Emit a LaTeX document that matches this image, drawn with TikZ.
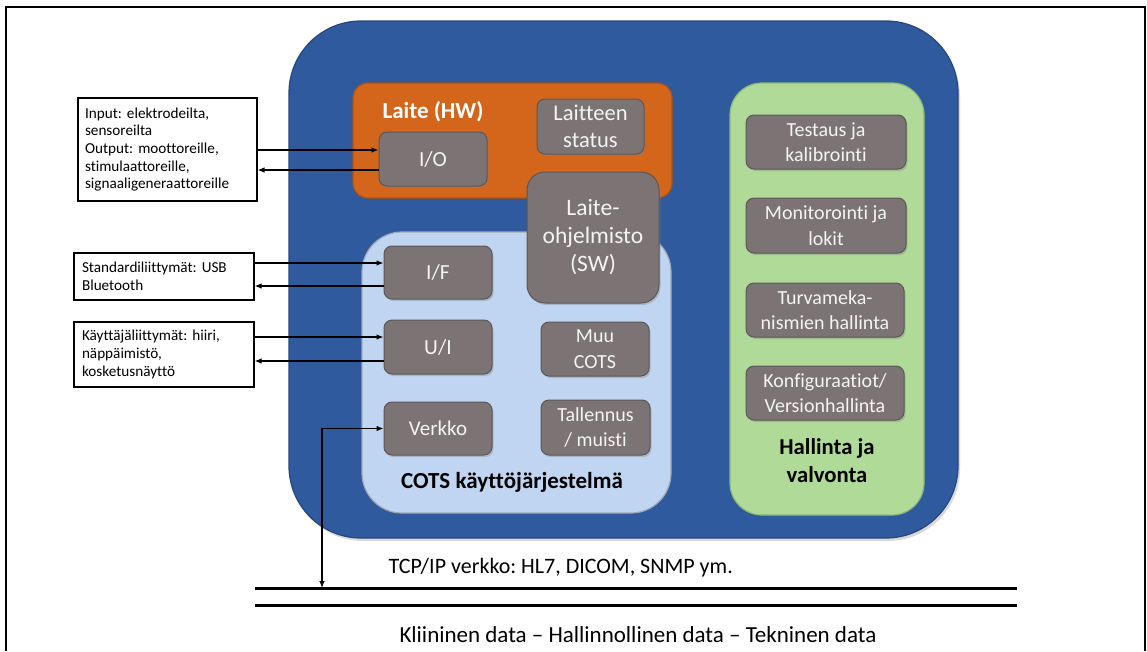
\documentclass[tikz,border=0pt]{standalone}
\usepackage{fontspec}
\setmainfont{Carlito}[Ligatures={NoCommon}]
\usetikzlibrary{arrows.meta,shadows}
\definecolor{outerblue}{HTML}{2F5A9E}
\definecolor{outerblueedge}{HTML}{25477E}
\definecolor{hworange}{HTML}{D4661C}
\definecolor{hworangeedge}{HTML}{B0520F}
\definecolor{cotsblue}{HTML}{BFD5F1}
\definecolor{cotsedge}{HTML}{9FA9B5}
\definecolor{mgmtgreen}{HTML}{B0DA97}
\definecolor{mgmtedge}{HTML}{8EB878}
\definecolor{boxgray}{HTML}{7C7474}
\definecolor{boxgrayedge}{HTML}{5C5656}
\definecolor{boxtext}{HTML}{F4F4F4}
\frenchspacing
\begin{document}
\begin{tikzpicture}[x=1pt,y=-1pt,
  container/.style={rounded corners=#1, inner sep=0pt, line width=1.2pt},
  graybox/.style={draw=boxgrayedge, fill=boxgray, line width=1pt, rounded corners=8pt,
    inner sep=0pt, align=center, text=boxtext,
    font=\fontsize{20}{25.5}\selectfont,
    drop shadow={shadow xshift=1.5pt, shadow yshift=-2pt, opacity=0.35}},
  infobox/.style={draw=black, fill=white, line width=1.1pt, inner sep=0pt,
    align=left, font=\fontsize{15.2}{17.6}\selectfont},
  arr/.style={-{Latex[length=7pt,width=5.5pt]}, line width=1.2pt},
  dblarr/.style={{Latex[length=7pt,width=5.5pt]}-{Latex[length=7pt,width=5.5pt]}, line width=1.2pt}
]
\useasboundingbox (0,0) rectangle (1147,651);
% page frame (open at the bottom)
\draw[line width=2pt] (6,651) -- (6,7) -- (1145,7) -- (1145,651);

% containers
\node[container=72pt, draw=outerblueedge, fill=outerblue, minimum width=669, minimum height=517,
  drop shadow={shadow xshift=2pt, shadow yshift=-3pt, opacity=0.3}] (outer) at (623.5,279.5) {};
\node[container=15pt, draw=hworangeedge, fill=hworange, minimum width=319, minimum height=115] (hw) at (512.5,140.5) {};
\node[container=40pt, draw=cotsedge, fill=cotsblue, minimum width=309, minimum height=281] (cots) at (516.5,372.5) {};
\node[container=32pt, draw=mgmtedge, fill=mgmtgreen, minimum width=194, minimum height=432] (mgmt) at (827,299) {};

% container labels
\node[text=white, font=\fontsize{23}{27}\selectfont\bfseries] (hwlabel) at (433,112) {Laite (HW)};
\node[text=black, font=\fontsize{23}{27}\selectfont\bfseries] (cotslabel) at (512,482) {COTS käyttöjärjestelmä};
\node[text=black, align=center, font=\fontsize{22.7}{28}\selectfont\bfseries] (mgmtlabel) at (827,461) {Hallinta ja\\valvonta};

% gray component boxes
\node[graybox, minimum width=107, minimum height=55, font=\fontsize{22.5}{27}\selectfont] (status) at (590.5,126.5) {Laitteen\\status};
\node[graybox, minimum width=108, minimum height=54, font=\fontsize{21.5}{26}\selectfont] (io) at (433,159) {I/O};
\node[graybox, minimum width=108, minimum height=53, font=\fontsize{21.5}{26}\selectfont] (if) at (438,272.5) {I/F};
\node[graybox, minimum width=108, minimum height=54, font=\fontsize{21.5}{26}\selectfont] (ui) at (438,347) {U/I};
\node[graybox, minimum width=108, minimum height=54] (muu) at (595,349) {Muu\\COTS};
\node[graybox, minimum width=108, minimum height=53, font=\fontsize{21}{26}\selectfont] (verkko) at (438,428.5) {Verkko};
\node[graybox, minimum width=109, minimum height=55] (tallennus) at (595.5,427.5) {Tallennus\\/ muisti};
\node[graybox, rounded corners=18pt, minimum width=132, minimum height=131, font=\fontsize{23.5}{28}\selectfont] (sw) at (593,237.5) {Laite-\\ohjelmisto\\(SW)};

\node[graybox, minimum width=160, minimum height=54] (testaus) at (826,142) {Testaus ja\\kalibrointi};
\node[graybox, minimum width=160, minimum height=55] (monitor) at (826,225.5) {Monitorointi ja\\lokit};
\node[graybox, minimum width=158, minimum height=54] (turva) at (825,310) {Turvameka-\\nismien hallinta};
\node[graybox, minimum width=158, minimum height=54] (konfig) at (825,393) {Konfiguraatiot/\\Versionhallinta};

% external info boxes
\node[infobox, minimum width=179, minimum height=103, text width=165] (hwinfo) at (167.5,149.5)
  {Input: elektrodeilta,\\sensoreilta\\Output: moottoreille,\\stimulaattoreille,\\signaaligeneraattoreille};
\node[infobox, minimum width=180, minimum height=47, text width=164] (ifinfo) at (164,276.5)
  {Standardiliittymät: USB\\Bluetooth};
\node[infobox, minimum width=180, minimum height=65, text width=164] (uiinfo) at (164,354.5)
  {Käyttäjäliittymät: hiiri,\\näppäimistö,\\kosketusnäyttö};

% connectors
\coordinate (ioIn) at ([yshift=9pt]io.west);
\coordinate (ioOut) at ([yshift=-11pt]io.west);
\draw[arr] (hwinfo.east |- ioIn) -- (ioIn);
\draw[arr] (ioOut) -- (hwinfo.east |- ioOut);

\coordinate (ifIn) at ([yshift=9.5pt]if.west);
\coordinate (ifOut) at ([yshift=-13.5pt]if.west);
\draw[arr] (ifinfo.east |- ifIn) -- (ifIn);
\draw[arr] (ifOut) -- (ifinfo.east |- ifOut);

\coordinate (uiIn) at ([yshift=10pt]ui.west);
\coordinate (uiOut) at ([yshift=-14pt]ui.west);
\draw[arr] (uiinfo.east |- uiIn) -- (uiIn);
\draw[arr] (uiOut) -- (uiinfo.east |- uiOut);

% network bus
\coordinate (busA1) at (255,588);
\coordinate (busB1) at (1017,588);
\coordinate (busA2) at (255,605);
\coordinate (busB2) at (1017,605);
\draw[line width=3pt] (busA1) -- (busB1);
\draw[line width=3pt] (busA2) -- (busB2);
\coordinate (vkCorner) at (322,428.5);
\draw[dblarr] (verkko.west) -- (vkCorner) -- (vkCorner |- busA1);

\node[anchor=west, font=\fontsize{22}{26}\selectfont] (tcp) at (385,568) {TCP/IP verkko: HL7, DICOM, SNMP ym.};
\node[font=\fontsize{23}{27}\selectfont] (data) at (638,635) {Kliininen data – Hallinnollinen data – Tekninen data};
\end{tikzpicture}
\end{document}
